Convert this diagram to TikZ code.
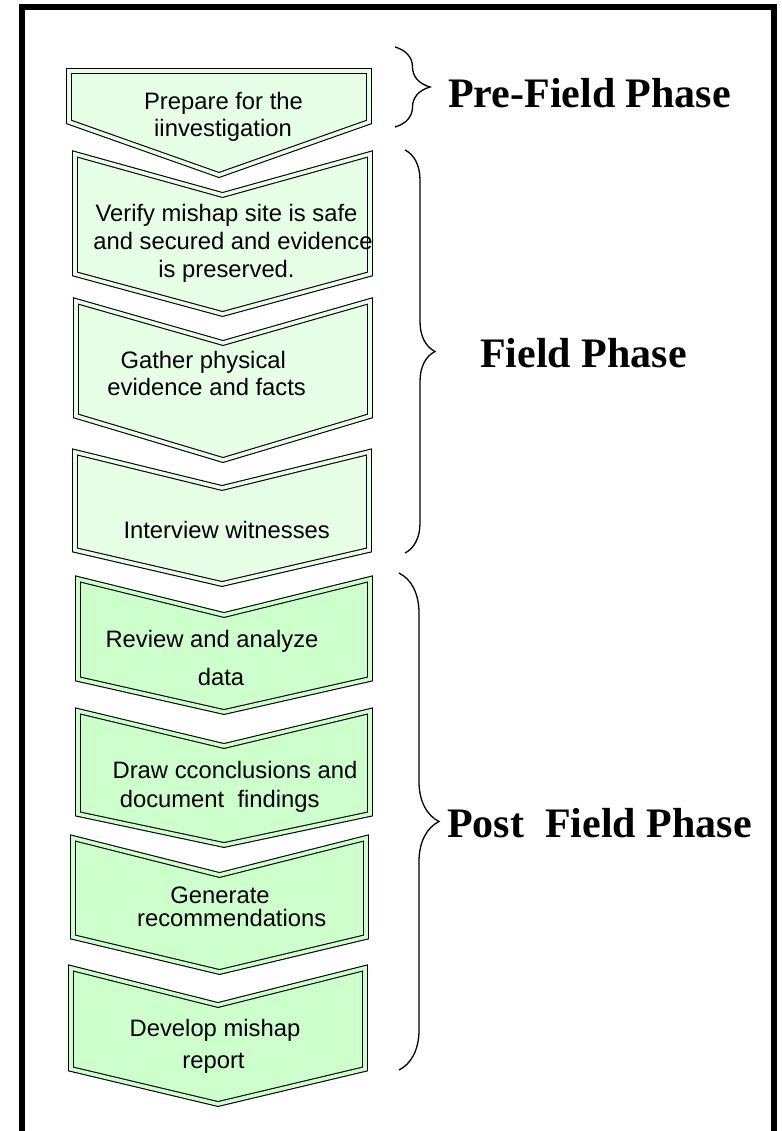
\documentclass[tikz,border=0pt]{standalone}
\usepackage{fontspec}
\setmainfont{Liberation Sans}
\newfontfamily\phasefont{Liberation Serif}
\usetikzlibrary{decorations.pathreplacing}
\definecolor{paleA}{HTML}{E6FFE6}
\definecolor{paleB}{HTML}{CCFFCC}
\tikzset{
  chev/.style={draw=black, line width=1.1pt, double distance=3.6pt, line join=miter},
  steptext/.style={font=\fontsize{23.8}{28}\selectfont, inner sep=0pt, anchor=base},
  phase/.style={font=\phasefont\bfseries\fontsize{42}{48}\selectfont, inner sep=0pt, anchor=base west},
  phasebrace/.style={decorate, decoration={brace, amplitude=#1}, line width=1.3pt},
  framerule/.style={line width=6pt, line join=miter}
}
% L R T notch B tip colour
\newcommand\chevshape[7]{%
  \filldraw[chev, fill=#7, double=#7]
    ({#1+3},{#3+3}) -- ({(#1+#2)/2},{#4+3}) -- ({#2-3},{#3+3})
    -- ({#2-3},{#5-3}) -- ({(#1+#2)/2},{#6-3}) -- ({#1+3},{#5-3}) -- cycle;}
\begin{document}
\begin{tikzpicture}[x=1pt,y=-1pt]
\useasboundingbox (0,0) rectangle (781,1131);
\fill[white] (0,0) rectangle (781,1131);
% frame
\draw[framerule] (22,1131) -- (22,7) -- (774,7) -- (774,1131);

% chevrons
\chevshape{66}{372}{68}{68}{125}{178}{paleA}
\chevshape{72}{373}{151}{192}{277}{317}{paleA}
\chevshape{73}{373}{298}{340}{419}{463}{paleA}
\chevshape{72}{372}{449}{485}{553}{587}{paleA}
\chevshape{75}{373}{576}{612}{682}{715}{paleB}
\chevshape{75}{373}{708}{743}{817}{848}{paleB}
\chevshape{70}{369}{835}{872}{940}{975}{paleB}
\chevshape{68}{368}{965}{1002}{1072}{1107}{paleB}

% step texts
\node[steptext] (s1a) at (223.5,110) {Prepare for the};
\node[steptext] (s1b) at (223,137) {iinvestigation};
\node[steptext] (s2a) at (226.5,222) {Verify mishap site is safe};
\node[steptext] (s2b) at (233,250) {and secured and evidence};
\node[steptext] (s2c) at (226.5,278) {is preserved.};
\node[steptext] (s3a) at (203.3,368) {Gather physical};
\node[steptext] (s3b) at (206.7,395) {evidence and facts};
\node[steptext] (s4a) at (226.7,538) {Interview witnesses};
\node[steptext] (s5a) at (212,647) {Review and analyze};
\node[steptext] (s5b) at (221,685) {data};
\node[steptext] (s6a) at (235,778) {Draw cconclusions and};
\node[steptext] (s6b) at (219.7,807) {document~~findings};
\node[steptext] (s7a) at (220,903) {Generate};
\node[steptext] (s7b) at (231.7,926) {recommendations};
\node[steptext] (s8a) at (215,1036) {Develop mishap};
\node[steptext] (s8b) at (213.5,1068) {report};

% braces
\coordinate (b1t) at (395,47);
\coordinate (b1b) at (395,127);
\coordinate (b2t) at (405,150);
\coordinate (b2b) at (405,553);
\coordinate (b3t) at (399,573);
\coordinate (b3b) at (399,1070);
\draw[phasebrace=35pt] (b1t) -- (b1b);
\draw[phasebrace=30pt] (b2t) -- (b2b);
\draw[phasebrace=40pt] (b3t) -- (b3b);

% phase labels
\node[phase] (pre) at (448,108) {Pre-Field Phase};
\node[phase] (field) at (480,367) {Field Phase};
\node[phase] (post) at (447,837) {Post~~Field Phase};
\end{tikzpicture}
\end{document}
